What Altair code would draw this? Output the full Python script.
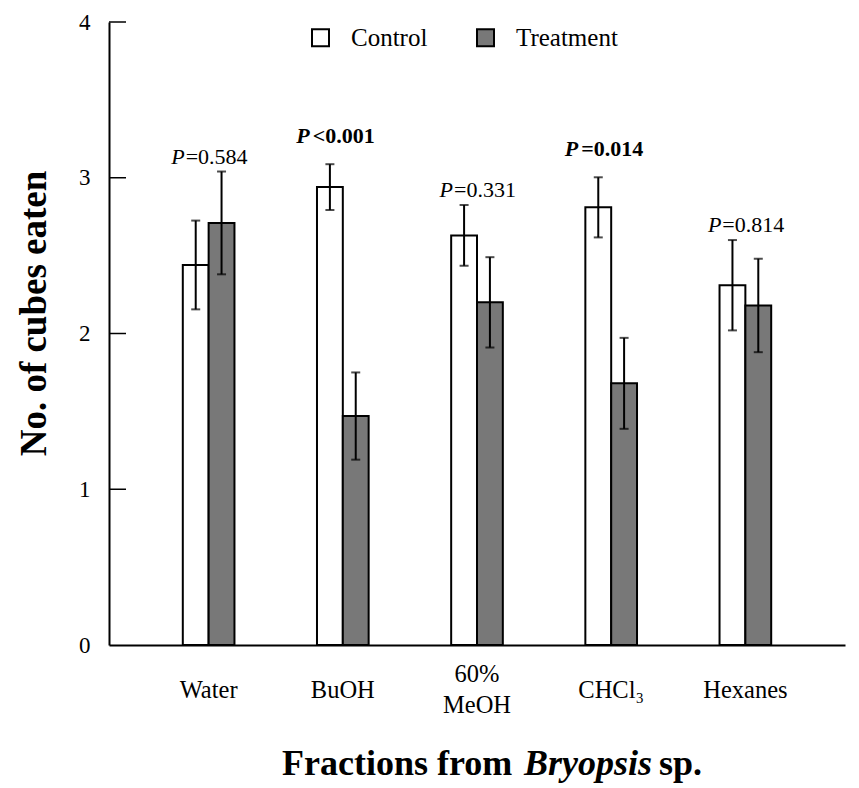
import altair as alt
import pandas as pd

# ---- data ----
fractions = ["Water", "BuOH", "60% MeOH", "CHCl\u2083", "Hexanes"]
conditions = ["Control", "Treatment"]
control_mean = [2.44, 2.94, 2.63, 2.81, 2.31]
control_se = [0.285, 0.147, 0.195, 0.193, 0.29]
treatment_mean = [2.71, 1.47, 2.20, 1.68, 2.18]
treatment_se = [0.33, 0.28, 0.29, 0.292, 0.30]
p_text = ["=0.584", "<0.001", "=0.331", "=0.014", "=0.814"]
p_bold = [False, True, False, True, False]
y_ticks = [0, 1, 2, 3, 4]

FONT = "Liberation Serif"

rows = []
for i, f in enumerate(fractions):
    for c, m, s in (("Control", control_mean[i], control_se[i]),
                    ("Treatment", treatment_mean[i], treatment_se[i])):
        rows.append({"fraction": f, "cond": c, "mean": m, "lo": m - s, "hi": m + s})
df = pd.DataFrame(rows)

pdf = pd.DataFrame({
    "fraction": fractions,
    "ptxt": p_text,
    "bold": p_bold,
    "top": [max(control_mean[i] + control_se[i], treatment_mean[i] + treatment_se[i])
            for i in range(len(fractions))],
})
tick_df = pd.DataFrame({"v": y_ticks[1:]})

x_enc = alt.X(
    "fraction:N", sort=fractions,
    scale=alt.Scale(paddingInner=0.615, paddingOuter=0.55),
    axis=alt.Axis(
        title=None, ticks=False, labelAngle=0, domainColor="black", domainWidth=2,
        labelFont=FONT, labelFontSize=24.5, labelColor="black",
        labelPadding={"condition": {"test": "datum.value == '60% MeOH'", "value": 29},
                      "value": 45},
        labelBaseline="middle", labelLineHeight=31, labelLimit=0,
        labelExpr="datum.label == '60% MeOH' ? ['60%', 'MeOH'] : datum.label",
    ),
)
y_scale = alt.Scale(domain=[0, 4], nice=False, zero=True)
y_axis = alt.Axis(
    values=y_ticks, format="d", ticks=False, grid=False, domainColor="black", domainWidth=2,
    labelFont=FONT, labelFontSize=23, labelColor="black", labelPadding=19,
    title="No. of cubes eaten", titleFont=FONT, titleFontSize=37, titleFontWeight="bold",
    titleColor="black", titleAngle=270, titleX=-64, titleY=291, titleAlign="center",
    titleBaseline="alphabetic",
)
xoff = alt.XOffset("cond:N", sort=conditions)

base = alt.Chart(df)

bars = base.mark_bar(stroke="black", strokeWidth=2).encode(
    x=x_enc,
    xOffset=xoff,
    y=alt.Y("mean:Q", scale=y_scale, axis=y_axis),
    fill=alt.Fill(
        "cond:N", sort=conditions,
        scale=alt.Scale(domain=conditions, range=["#ffffff", "#787878"]),
        legend=alt.Legend(
            title=None, orient="none", legendX=199, legendY=3, direction="horizontal",
            symbolType="square", symbolSize=289, symbolStrokeColor="black",
            symbolStrokeWidth=2, labelFont=FONT, labelFontSize=25, labelColor="black",
            labelOffset=18, columnPadding=45, padding=0,
        ),
    ),
)

err = base.mark_rule(color="black", strokeWidth=2).encode(
    x=alt.X("fraction:N", sort=fractions), xOffset=xoff,
    y="lo:Q", y2="hi:Q",
)
cap_hi = base.mark_tick(color="black", thickness=2, size=9).encode(
    x=alt.X("fraction:N", sort=fractions), xOffset=xoff, y="hi:Q")
cap_lo = base.mark_tick(color="black", thickness=2, size=9).encode(
    x=alt.X("fraction:N", sort=fractions), xOffset=xoff, y="lo:Q")

ptext = alt.Chart(pdf)
p_norm_P = ptext.transform_filter("!datum.bold").mark_text(
    text="P", font=FONT, fontSize=22, fontStyle="italic", align="right",
    baseline="alphabetic", dx=-24, dy=-8, color="black",
).encode(x=alt.X("fraction:N", sort=fractions), y="top:Q")
p_norm_v = ptext.transform_filter("!datum.bold").mark_text(
    font=FONT, fontSize=22, align="left", baseline="alphabetic", dx=-23, dy=-8,
    color="black",
).encode(x=alt.X("fraction:N", sort=fractions), y="top:Q", text="ptxt:N")
p_bold_P = ptext.transform_filter("datum.bold").mark_text(
    text="P", font=FONT, fontSize=22, fontStyle="italic", fontWeight="bold",
    align="right", baseline="alphabetic", dx=-33, dy=-21, color="black",
).encode(x=alt.X("fraction:N", sort=fractions), y="top:Q")
p_bold_v = ptext.transform_filter("datum.bold").mark_text(
    font=FONT, fontSize=22, fontWeight="bold", align="left", baseline="alphabetic",
    dx=-30, dy=-21, color="black",
).encode(x=alt.X("fraction:N", sort=fractions), y="top:Q", text="ptxt:N")

inner_ticks = alt.Chart(tick_df).mark_rule(color="black", strokeWidth=1.5).encode(
    y="v:Q", x=alt.value(0), x2=alt.value(17))

one = alt.InlineData(values=[{"k": 1}])
t1 = alt.Chart(one).mark_text(
    text="Fractions from", font=FONT, fontSize=36, fontWeight="bold", align="left",
    baseline="alphabetic", color="black",
).encode(x=alt.value(173), y=alt.value(753))
t2 = alt.Chart(one).mark_text(
    text="Bryopsis", font=FONT, fontSize=36, fontWeight="bold", fontStyle="italic",
    align="left", baseline="alphabetic", color="black",
).encode(x=alt.value(415), y=alt.value(753))
t3 = alt.Chart(one).mark_text(
    text="sp.", font=FONT, fontSize=36, fontWeight="bold", align="left",
    baseline="alphabetic", color="black",
).encode(x=alt.value(550), y=alt.value(753))

chart = alt.layer(
    bars, err, cap_hi, cap_lo, inner_ticks,
    p_norm_P, p_norm_v, p_bold_P, p_bold_v, t1, t2, t3,
).properties(
    width=736, height=623,
    padding={"left": 101, "top": 14, "right": 6, "bottom": 143},
    autosize=alt.AutoSizeParams(type="none"),
    background="white",
).configure_view(stroke=None)

chart.save("out.html", embed_options={"renderer": "svg", "actions": False})
